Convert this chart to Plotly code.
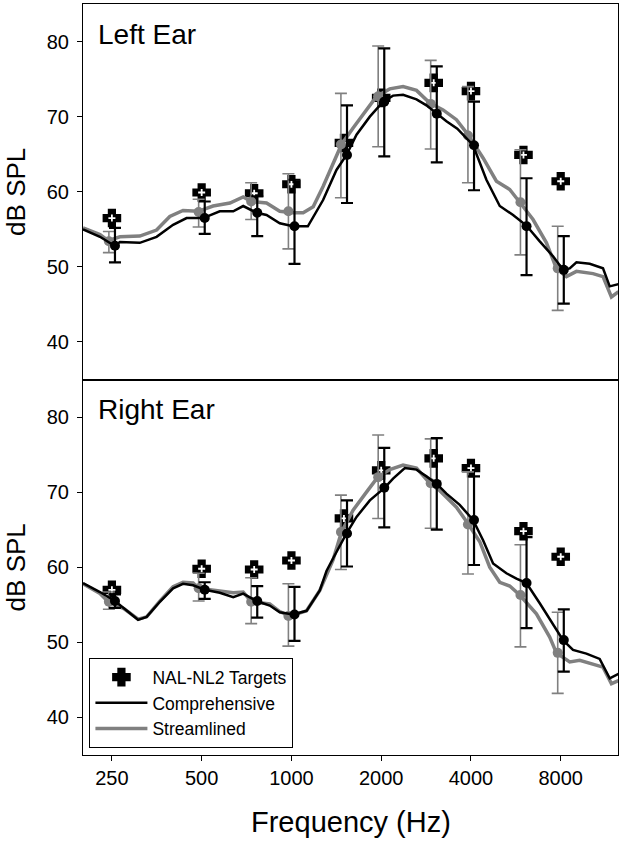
import numpy as np
import plotly.graph_objects as go
from plotly.subplots import make_subplots

# ---------------- data ----------------
FREQ = [250, 500, 750, 1000, 1500, 2000, 3000, 4000, 6000, 8000]
TICK_VALS = [250, 500, 1000, 2000, 4000, 8000]
TICK_TEXT = ["250", "500", "1000", "2000", "4000", "8000"]
Y_TICKS = [40, 50, 60, 70, 80]

# Left ear
L_TARGET = [56.5, 59.9, 59.8, 61.0, 66.5, 72.5, 74.5, 73.4, 64.9, 61.4]
L_COMP = [52.8, 56.5, 57.2, 55.4, 64.9, 72.0, 70.4, 66.2, 55.4, 49.6]
L_COMP_HI = [55.2, 58.7, 59.4, 61.6, 71.5, 79.1, 76.7, 72.0, 61.8, 54.1]
L_COMP_LO = [50.6, 54.4, 54.1, 50.4, 58.5, 64.7, 63.9, 60.2, 48.9, 45.1]
L_STRM = [53.4, 57.3, 58.7, 57.4, 66.3, 72.7, 71.7, 67.5, 58.6, 49.8]
L_STRM_HI = [54.7, 59.0, 61.2, 62.4, 73.1, 79.4, 77.5, 74.0, 65.6, 55.4]
L_STRM_LO = [51.9, 55.3, 56.3, 52.4, 59.2, 66.0, 65.7, 61.2, 51.6, 44.2]

L_COMP_F = [200, 228, 255, 266, 310, 353, 401, 445, 506, 575, 638, 689, 764, 825,
            914, 1013, 1135, 1277, 1416, 1530, 1653, 1832, 2030, 2192, 2368, 2627,
            2837, 3065, 3310, 3600, 4065, 4507, 4996, 5537, 6138, 6804, 7540, 8145,
            8575, 9032, 10008, 11088, 11679, 12500]
L_COMP_C = [55.0, 54.0, 52.8, 53.3, 53.2, 54.0, 55.6, 56.5, 56.5, 57.4, 57.4, 58.1,
            57.2, 56.9, 55.8, 55.4, 55.4, 58.9, 62.9, 64.9, 67.6, 70.0, 72.0, 72.8,
            72.9, 72.3, 71.5, 70.4, 69.4, 68.4, 66.2, 61.6, 58.1, 56.9, 55.5, 53.4,
            51.4, 49.6, 49.8, 50.6, 50.4, 49.8, 47.4, 47.7]
L_STRM_F = [200, 228, 243, 266, 310, 353, 391, 433, 487, 546, 622, 689, 735, 825,
            914, 1013, 1095, 1183, 1277, 1380, 1472, 1610, 1739, 1929, 2137, 2368,
            2627, 2910, 3225, 3576, 3912, 4392, 4869, 5396, 5830, 6460, 7165, 7738,
            8358, 9032, 10267, 11088, 11834, 12500]
L_STRM_C = [55.2, 54.3, 53.5, 54.0, 54.1, 54.9, 56.7, 57.5, 57.4, 58.1, 58.5, 59.3,
            58.7, 58.5, 57.4, 57.2, 57.2, 58.0, 60.7, 63.8, 66.3, 68.5, 70.3, 72.7,
            73.7, 74.0, 73.5, 71.8, 70.9, 69.6, 67.6, 64.5, 61.4, 60.3, 58.6, 56.3,
            53.2, 49.8, 48.7, 49.4, 49.1, 48.7, 46.0, 46.7]

# Right ear
R_TARGET = [57.0, 59.8, 59.7, 60.9, 66.5, 72.9, 74.5, 73.2, 64.8, 61.4]
R_COMP = [55.5, 57.0, 55.5, 53.7, 64.5, 70.6, 71.1, 66.3, 57.9, 50.3]
R_COMP_HI = [56.4, 58.0, 57.5, 57.4, 68.9, 75.9, 77.2, 72.1, 64.0, 54.4]
R_COMP_LO = [54.6, 55.8, 53.3, 50.2, 60.1, 65.3, 65.0, 60.3, 51.9, 46.1]
R_STRM = [55.4, 57.2, 55.4, 53.5, 64.7, 72.0, 71.2, 65.7, 56.3, 48.6]
R_STRM_HI = [56.7, 59.2, 58.6, 57.8, 69.6, 77.6, 77.1, 72.7, 63.0, 54.0]
R_STRM_LO = [54.4, 55.5, 52.5, 49.5, 59.7, 66.5, 65.2, 59.1, 49.4, 43.2]

R_COMP_F = [200, 228, 256, 274, 306, 327, 362, 401, 433, 468, 512, 575, 638, 689,
            764, 846, 914, 1013, 1124, 1245, 1311, 1380, 1530, 1653, 1832, 2056,
            2192, 2400, 2627, 2837, 3072, 3310, 3668, 4065, 4392, 4745, 5260, 5683,
            6138, 6804, 7540, 8145, 8796, 9753, 10808, 11679, 12500]
R_COMP_C = [57.9, 56.7, 55.5, 54.5, 53.0, 53.4, 55.4, 57.2, 57.8, 57.6, 57.0, 56.6,
            56.0, 56.5, 55.5, 54.9, 54.0, 53.7, 54.2, 56.9, 59.5, 61.2, 64.5, 66.7,
            68.9, 70.6, 71.8, 73.2, 73.0, 72.1, 71.1, 69.8, 68.3, 66.3, 63.6, 60.5,
            59.2, 58.5, 57.9, 55.2, 52.3, 50.3, 49.0, 48.5, 47.8, 45.2, 45.8]
R_STRM_F = [200, 228, 243, 274, 306, 327, 362, 401, 433, 468, 487, 575, 638, 689,
            735, 846, 914, 988, 1124, 1245, 1380, 1472, 1610, 1785, 1948, 2137, 2368,
            2627, 2910, 3145, 3576, 3912, 4282, 4624, 4996, 5396, 5830, 6630, 7347,
            7738, 8575, 9264, 10267, 11088, 11834, 12500]
R_STRM_C = [57.8, 56.5, 55.4, 54.5, 53.1, 53.4, 55.5, 57.4, 58.0, 57.9, 57.2, 56.9,
            56.6, 56.7, 55.4, 55.1, 54.1, 53.5, 54.2, 56.9, 61.0, 64.7, 67.6, 70.0,
            72.0, 73.0, 73.6, 73.2, 71.2, 70.2, 68.0, 65.8, 63.4, 60.0, 58.0, 57.5,
            56.3, 53.8, 50.7, 48.6, 47.4, 47.6, 47.1, 46.7, 44.5, 44.9]

# ---------------- styling ----------------
FONT = "Liberation Sans, Arial, sans-serif"
BLACK = "#000000"
GRAY = "#808080"
GRAY_SHIFT = 0.977   # small horizontal dodge of the streamlined points
BLACK_SHIFT = 1.024  # small horizontal dodge of the comprehensive points

fig = make_subplots(rows=2, cols=1, shared_xaxes=True, vertical_spacing=0)

panels = [
    (1, L_TARGET, L_COMP, L_COMP_HI, L_COMP_LO, L_STRM, L_STRM_HI, L_STRM_LO,
     L_COMP_F, L_COMP_C, L_STRM_F, L_STRM_C),
    (2, R_TARGET, R_COMP, R_COMP_HI, R_COMP_LO, R_STRM, R_STRM_HI, R_STRM_LO,
     R_COMP_F, R_COMP_C, R_STRM_F, R_STRM_C),
]

for (row, tgt, comp, comp_hi, comp_lo, strm, strm_hi, strm_lo,
     cf, cc, sf, sc) in panels:
    legend = row == 2
    comp_a = np.array(comp)
    strm_a = np.array(strm)
    # targets
    fig.add_trace(go.Scatter(
        x=FREQ, y=tgt, mode="markers", name="NAL-NL2 Targets",
        marker=dict(symbol="cross", size=13, color=BLACK,
                    line=dict(color=BLACK, width=3)),
        showlegend=legend, legendrank=1, hoverinfo="skip"), row=row, col=1)
    fig.add_trace(go.Scatter(
        x=FREQ, y=tgt, mode="markers",
        marker=dict(symbol="cross-thin", size=5, color="white",
                    line=dict(color="white", width=1.8)),
        showlegend=False, hoverinfo="skip"), row=row, col=1)
    # streamlined
    fig.add_trace(go.Scatter(
        x=sf, y=sc, mode="lines", name="Streamlined",
        line=dict(color=GRAY, width=3.5),
        showlegend=legend, legendrank=3, hoverinfo="skip"), row=row, col=1)
    fig.add_trace(go.Scatter(
        x=[f * GRAY_SHIFT for f in FREQ], y=strm, mode="markers",
        marker=dict(symbol="circle", size=10, color=GRAY),
        error_y=dict(type="data", symmetric=False,
                     array=list(np.array(strm_hi) - strm_a),
                     arrayminus=list(strm_a - np.array(strm_lo)),
                     color=GRAY, thickness=1.6, width=6),
        showlegend=False, hoverinfo="skip"), row=row, col=1)
    # comprehensive
    fig.add_trace(go.Scatter(
        x=cf, y=cc, mode="lines", name="Comprehensive",
        line=dict(color=BLACK, width=2.5),
        showlegend=legend, legendrank=2, hoverinfo="skip"), row=row, col=1)
    fig.add_trace(go.Scatter(
        x=[f * BLACK_SHIFT for f in FREQ], y=comp, mode="markers",
        marker=dict(symbol="circle", size=10, color=BLACK),
        error_y=dict(type="data", symmetric=False,
                     array=list(np.array(comp_hi) - comp_a),
                     arrayminus=list(comp_a - np.array(comp_lo)),
                     color=BLACK, thickness=2.2, width=6),
        showlegend=False, hoverinfo="skip"), row=row, col=1)

xr = [np.log10(200), np.log10(12450)]
common_x = dict(type="log", range=xr, showgrid=False, zeroline=False,
                showline=True, linecolor=BLACK, linewidth=1, mirror=True)
fig.update_xaxes(**common_x, ticks="", showticklabels=False, row=1, col=1)
fig.update_xaxes(**common_x, ticks="outside", ticklen=5, tickcolor=BLACK,
                 tickvals=TICK_VALS, ticktext=TICK_TEXT,
                 tickfont=dict(family=FONT, size=20, color=BLACK), row=2, col=1)
fig.update_yaxes(range=[35, 85], tickvals=Y_TICKS, ticks="outside", ticklen=5,
                 tickcolor=BLACK, showgrid=False, zeroline=False, showline=True,
                 linecolor=BLACK, linewidth=1, mirror=True, ticklabelstandoff=4,
                 tickfont=dict(family=FONT, size=20, color=BLACK))

annots = [
    dict(text="Left Ear", xref="x domain", yref="y domain", x=0.024, y=0.966,
         xanchor="left", yanchor="top", showarrow=False,
         font=dict(family=FONT, size=28, color=BLACK)),
    dict(text="Right Ear", xref="x2 domain", yref="y2 domain", x=0.024, y=0.966,
         xanchor="left", yanchor="top", showarrow=False,
         font=dict(family=FONT, size=28, color=BLACK)),
    dict(text="dB SPL", xref="paper", yref="y domain", x=-0.125, y=0.5,
         xanchor="center", yanchor="middle", textangle=-90, showarrow=False,
         font=dict(family=FONT, size=26, color=BLACK)),
    dict(text="dB SPL", xref="paper", yref="y2 domain", x=-0.125, y=0.5,
         xanchor="center", yanchor="middle", textangle=-90, showarrow=False,
         font=dict(family=FONT, size=26, color=BLACK)),
    dict(text="Frequency (Hz)", xref="paper", yref="paper", x=0.5, y=-0.065,
         xanchor="center", yanchor="top", showarrow=False,
         font=dict(family=FONT, size=29, color=BLACK)),
]

fig.update_layout(
    width=624, height=841,
    margin=dict(l=83, r=6, t=4, b=86),
    paper_bgcolor="white", plot_bgcolor="white",
    font=dict(family=FONT, color=BLACK),
    annotations=annots,
    legend=dict(x=0.012, y=0.009, xanchor="left", yanchor="bottom",
                bordercolor=BLACK, borderwidth=1, bgcolor="white",
                font=dict(family=FONT, size=17.5, color=BLACK),
                itemwidth=52, tracegroupgap=0),
)

fig.write_html("out.html",
               config={"displayModeBar": False},
               post_script="document.body.style.margin='0px';"
                           "document.body.style.overflow='hidden';")
